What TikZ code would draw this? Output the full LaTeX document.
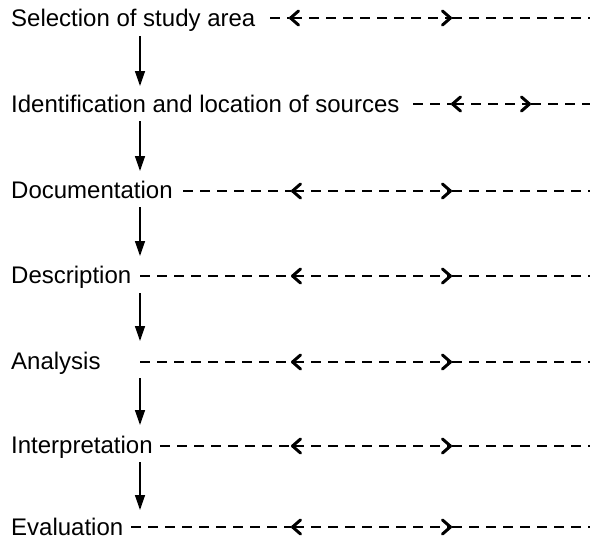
\documentclass[tikz,border=0pt]{standalone}
\usepackage{fontspec}
\setmainfont{Liberation Sans}
\usetikzlibrary{arrows.meta}
\begin{document}
\begin{tikzpicture}[x=1pt,y=-1pt,
  stage/.style={anchor=base west,inner sep=0pt,font=\fontsize{24}{28}\selectfont},
  flow/.style={line width=1.4pt,-{Triangle[length=15pt,width=10pt]}},
  link/.style={line width=1.2pt,dash pattern=on 10pt off 7pt},
  barb/.tip={Straight Barb[length=8pt,width=14pt,line width=3pt 0,round]},
  span/.style={link,barb-barb}]
\useasboundingbox (0,0) rectangle (590,547);

% stages of the procedure
\node[stage] (n1) at (11,26)  {Selection of study area};
\node[stage] (n2) at (11,112) {Identification and location of sources};
\node[stage] (n3) at (11,198) {Documentation};
\node[stage] (n4) at (11,283) {Description};
\node[stage] (n5) at (11,369) {Analysis};
\node[stage] (n6) at (11,453) {Interpretation};
\node[stage] (n7) at (11,535) {Evaluation};

% downward flow between stages
\coordinate (d1) at (140,36);  \coordinate (e1) at (140,86);
\coordinate (d2) at (140,121); \coordinate (e2) at (140,171);
\coordinate (d3) at (140,207); \coordinate (e3) at (140,256);
\coordinate (d4) at (140,293); \coordinate (e4) at (140,341);
\coordinate (d5) at (140,378); \coordinate (e5) at (140,425);
\coordinate (d6) at (140,462); \coordinate (e6) at (140,510);
\foreach \i in {1,...,6} {\draw[flow] (d\i) -- (e\i);}

% dashed links with the two inner marks
\foreach \i/\y/\s/\a/\b in {1/18/270/289/452, 2/104/413/451/531, 3/191/183/291/452,
                            4/276/140/291/452, 5/362/140/291/452, 6/446/160/291/452,
                            7/527/131/291/452} {
  \coordinate (s\i) at (\s,\y);
  \coordinate (a\i) at (\a,\y);
  \coordinate (b\i) at (\b,\y);
  \coordinate (t\i) at (590,\y);
  \draw[link] (s\i) -- (a\i);
  \draw[span] (a\i) -- (b\i);
  \draw[link] (b\i) -- (t\i);
}
\end{tikzpicture}
\end{document}
